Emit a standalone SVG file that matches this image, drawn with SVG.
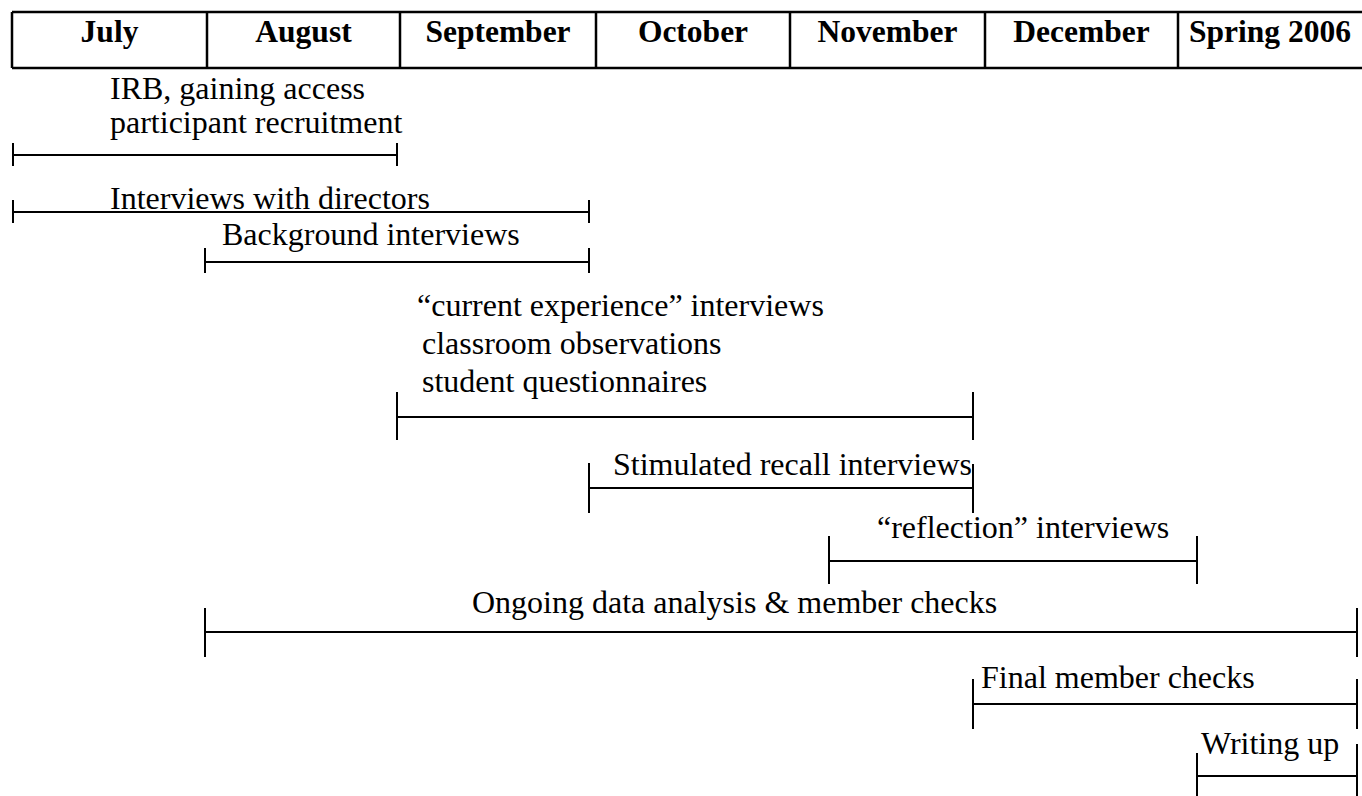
<svg xmlns="http://www.w3.org/2000/svg" width="1362" height="796" viewBox="0 0 1362 796">
<style>
.hdr{font-family:"Liberation Serif","Times New Roman",serif;font-weight:bold;font-size:31.5px;fill:#000;text-anchor:middle}
.lbl{font-family:"Liberation Serif","Times New Roman",serif;font-size:32px;fill:#000}
.grid{stroke:#000;stroke-width:2.5;fill:none}
.bar{stroke:#000;stroke-width:2;fill:none}
</style>
<rect x="0" y="0" width="1362" height="796" fill="#fff"/>
<g id="header">
<path class="grid" d="M12 12H1362M12 68H1362M12 12V68M207 12V68M400 12V68M596 12V68M790 12V68M985 12V68M1178 12V68"/>
<text class="hdr" x="109.5" y="42">July</text>
<text class="hdr" x="303.5" y="42">August</text>
<text class="hdr" x="498" y="42">September</text>
<text class="hdr" x="693" y="42">October</text>
<text class="hdr" x="887.5" y="42">November</text>
<text class="hdr" x="1081.5" y="42">December</text>
<text class="hdr" x="1270" y="42">Spring 2006</text>
</g>
<g id="irb">
<path class="bar" d="M13 155H397M13 143V166M397 143V166"/>
<text class="lbl" x="110" y="99">IRB, gaining access</text>
<text class="lbl" x="110" y="133">participant recruitment</text>
</g>
<g id="directors">
<path class="bar" d="M13 212H589M13 200V223M589 200V223"/>
<text class="lbl" x="110" y="209">Interviews with directors</text>
</g>
<g id="background">
<path class="bar" d="M205 262H589M205 248V273M589 248V273"/>
<text class="lbl" x="222" y="245">Background interviews</text>
</g>
<g id="current">
<path class="bar" d="M397 417H973M397 392V440M973 392V440"/>
<text class="lbl" x="417" y="316">“current experience” interviews</text>
<text class="lbl" x="422" y="354">classroom observations</text>
<text class="lbl" x="422" y="392">student questionnaires</text>
</g>
<g id="stimulated">
<path class="bar" d="M589 488H973M589 463V513M973 464V513"/>
<text class="lbl" x="972" y="475" text-anchor="end">Stimulated recall interviews</text>
</g>
<g id="reflection">
<path class="bar" d="M829 561H1197M829 536V584M1197 536V584"/>
<text class="lbl" x="877" y="538">“reflection” interviews</text>
</g>
<g id="ongoing">
<path class="bar" d="M205 632H1357M205 608V657M1357 608V657"/>
<text class="lbl" x="472" y="613">Ongoing data analysis &amp; member checks</text>
</g>
<g id="final">
<path class="bar" d="M973 704H1357M973 679V729M1357 679V729"/>
<text class="lbl" x="981" y="688">Final member checks</text>
</g>
<g id="writing">
<path class="bar" d="M1197 776H1357M1197 753V796M1357 744V796"/>
<text class="lbl" x="1201" y="754">Writing up</text>
</g>
</svg>
